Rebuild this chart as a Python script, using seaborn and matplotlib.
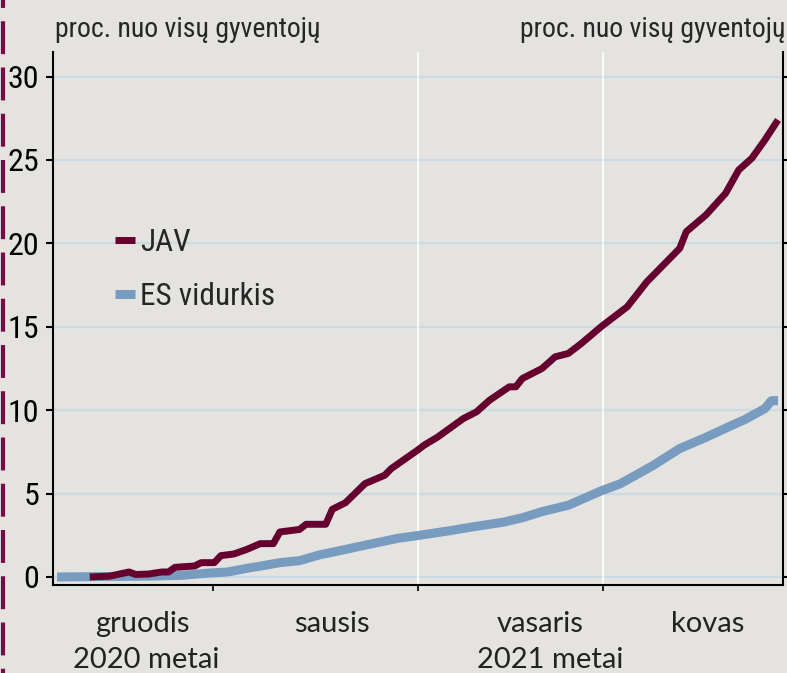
import matplotlib
matplotlib.use("Agg")
import matplotlib.pyplot as plt
import matplotlib.font_manager as fm
from matplotlib.lines import Line2D
import seaborn as sns

# series (x = day index from start of data)
jav_days = [5, 8, 11, 12, 14, 16, 17, 18, 21, 22, 24, 25, 27, 29, 31, 33, 34, 37, 38, 41, 42, 44,
            47, 50, 51, 55, 56, 58, 62, 64, 66, 69, 70, 71, 73, 74, 76, 78, 80, 83, 87, 90, 92, 95,
            96, 99, 102, 104, 106, 108, 110]
jav_values = [0.0, 0.05, 0.3, 0.15, 0.18, 0.3, 0.3, 0.58, 0.66, 0.86, 0.86, 1.28, 1.38, 1.66, 2.0, 2.0,
              2.7, 2.85, 3.16, 3.16, 4.06, 4.45, 5.6, 6.1, 6.5, 7.6, 7.9, 8.37, 9.5, 9.9, 10.6, 11.4,
              11.4, 11.9, 12.3, 12.5, 13.2, 13.4, 14.0, 15.0, 16.2, 17.7, 18.5, 19.7, 20.7, 21.7, 23.0,
              24.4, 25.1, 26.2, 27.4]
es_days = [0, 14, 19, 23, 26, 29, 32, 34, 37, 40, 46, 52, 55, 60, 63, 68, 71, 74, 78, 83, 86, 91, 95,
           99, 103, 105, 108, 109, 110]
es_values = [0.0, 0.05, 0.1, 0.23, 0.3, 0.52, 0.72, 0.86, 0.98, 1.32, 1.82, 2.32, 2.48, 2.78, 2.98,
             3.28, 3.55, 3.92, 4.3, 5.16, 5.6, 6.7, 7.7, 8.37, 9.1, 9.45, 10.1, 10.57, 10.57]

month_ticks = [23.8, 55.1, 83.3]
month_labels = ["gruodis", "sausis", "vasaris", "kovas"]
month_label_pos = [13.1, 42.0, 73.7, 99.3]
year_labels = ["2020 metai", "2021 metai"]
year_label_pos = [13.6, 75.2]
y_ticks = [0, 5, 10, 15, 20, 25, 30]
unit_label = "proc. nuo visų gyventojų"

bg = "#e4e3df"
jav_color = "#66002e"
es_color = "#789bc0"
grid_color = "#cbdae3"
border_color = "#7a0a45"

sns.set_style("white", {"axes.facecolor": bg, "figure.facecolor": bg})

# narrow font for ticks/legend, a Calibri-like font for month labels
names = {f.name for f in fm.fontManager.ttflist}
narrow, stretch, k = "DejaVu Sans", "normal", 0.78
for cand in ["Roboto Condensed", "Liberation Sans Narrow", "Open Sans Condensed"]:
    if cand in names:
        narrow, k = cand, 1.0
        break
else:
    if any(f.name == "DejaVu Sans" and "ondensed" in f.fname for f in fm.fontManager.ttflist):
        stretch, k = "condensed", 0.88
plt.rcParams["font.family"] = [narrow, "DejaVu Sans"]
plt.rcParams["font.stretch"] = stretch
label_font = ["Lato", "Open Sans", "DejaVu Sans"]

fig = plt.figure(figsize=(7.87, 6.73), dpi=100)
ax = fig.add_axes([53 / 787, 1 - 585 / 673, 730 / 787, 533.3 / 673])
ax.set_facecolor(bg)

sns.lineplot(x=es_days, y=es_values, ax=ax, color=es_color, linewidth=6.5,
             label="ES vidurkis", solid_capstyle="butt", zorder=3)
sns.lineplot(x=jav_days, y=jav_values, ax=ax, color=jav_color, linewidth=5,
             label="JAV", solid_capstyle="butt", zorder=4)

ax.set_xlim(-0.61, 110.76)
ax.set_ylim(-0.48, 31.49)
ax.set_xlabel("")
ax.set_ylabel("")

ax.set_yticks(y_ticks)
ax.set_yticklabels([str(v) for v in y_ticks])
ax.set_xticks(month_ticks)
ax.set_xticklabels([])
ax.yaxis.grid(True, color=grid_color, linewidth=1.6, zorder=1)
ax.xaxis.grid(False)
ax.set_axisbelow(True)
for xv in month_ticks[1:]:
    ax.axvline(xv, color="white", linewidth=1.2, zorder=1)

for side in ["left", "right", "bottom"]:
    ax.spines[side].set_visible(True)
    ax.spines[side].set_color("black")
    ax.spines[side].set_linewidth(1.5)
ax.spines["top"].set_visible(False)

ax.tick_params(axis="y", which="both", left=True, right=True, labelleft=True, labelright=False,
               direction="out", length=5, width=1.5, pad=5, labelsize=23 * k, colors="black")
ax.tick_params(axis="x", bottom=True, direction="out", length=4, width=1.5)

# legend: JAV first
handles, labels = ax.get_legend_handles_labels()
order = [labels.index("JAV"), labels.index("ES vidurkis")]
ax.legend([handles[i] for i in order], [labels[i] for i in order],
          loc="center left", bbox_to_anchor=(0.085, 0.5925), frameon=False,
          fontsize=22.5 * k, handlelength=0.65, handletextpad=0.15, labelspacing=0.8,
          borderpad=0, borderaxespad=0)

# month and year labels under the axis
xt = ax.get_xaxis_transform()
for lab, pos in zip(month_labels, month_label_pos):
    ax.text(pos, -0.088, lab, transform=xt, ha="center", va="baseline",
            fontsize=21, family=label_font, color="#222222")
for lab, pos in zip(year_labels, year_label_pos):
    ax.text(pos, -0.156, lab, transform=xt, ha="center", va="baseline",
            fontsize=21, family=label_font, color="#222222")

# unit labels above both axes
fig.text(55 / 787, 1 - 37 / 673, unit_label, ha="left", va="baseline", fontsize=20 * k)
fig.text(785 / 787, 1 - 37 / 673, unit_label, ha="right", va="baseline", fontsize=20 * k)

# dashed border at the left edge
fig.add_artist(Line2D([2.5 / 787, 2.5 / 787], [1, 0], transform=fig.transFigure,
                      color=border_color, linewidth=3, linestyle=(6.0, (7.9, 3.2))))

fig.savefig("out.png", dpi=100, facecolor=bg)
